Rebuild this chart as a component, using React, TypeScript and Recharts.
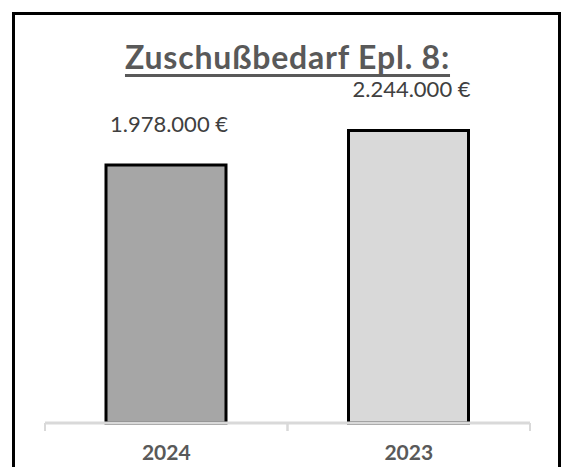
import React from 'react';
import { BarChart, Bar, XAxis, YAxis, Cell, LabelList } from 'recharts';

const years = ['2024', '2023'];
const amounts = [1978000, 2244000];
const barColors = ['#a6a6a6', '#d9d9d9'];
const yMax = 2500000;

const data = years.map((year, i) => ({ year, amount: amounts[i] }));

const formatEuro = (v: number) =>
  v.toString().replace(/\B(?=(\d{3})+(?!\d))/g, '.') + ' €';

const ValueLabel = (props: any) => {
  const { x, y, width, value } = props;
  return (
    <text
      x={x + width / 2 + 3}
      y={y - 33}
      textAnchor="middle"
      fill="#404040"
      fontSize={22}
      fontFamily="Lato, sans-serif"
    >
      {formatEuro(value)}
    </text>
  );
};

// category label plus Excel-style tick marks on the band edges
const YearTick = (props: any) => {
  const { x, y, payload } = props;
  const half = payload.offset || 0;
  return (
    <g>
      <line x1={x - half} x2={x - half} y1={y} y2={y + 8} stroke="#d9d9d9" strokeWidth={2} />
      <line x1={x + half} x2={x + half} y1={y} y2={y + 8} stroke="#d9d9d9" strokeWidth={2} />
      <text
        x={x}
        y={y + 37}
        textAnchor="middle"
        fill="#595959"
        fontSize={21}
        fontWeight={700}
        fontFamily="Lato, sans-serif"
      >
        {payload.value}
      </text>
    </g>
  );
};

export default function App() {
  return (
    <div style={{ position: 'fixed', left: 0, top: 0, width: 563, height: 467, overflow: 'hidden', background: '#fff' }}>
      <div
        style={{
          position: 'absolute', left: 12, top: 12, width: 543, height: 480,
          border: '3px solid #000',
        }}
      />
      <div
        style={{
          position: 'absolute', left: 0, width: 575, top: 40, textAlign: 'center',
          fontFamily: 'Lato, sans-serif', fontWeight: 700, fontSize: 32, color: '#595959',
          textDecoration: 'underline', textDecorationThickness: 3, textUnderlineOffset: 5,
          lineHeight: '34px', letterSpacing: 0.8,
        }}
      >
        Zuschußbedarf Epl. 8:
      </div>
      <div style={{ position: 'absolute', left: 0, top: 0 }}>
        <BarChart width={563} height={467} data={data} margin={{ top: 97, right: 33, left: 45, bottom: 0 }}>
          <XAxis
            dataKey="year"
            height={44}
            axisLine={{ stroke: '#d9d9d9', strokeWidth: 3 }}
            tickLine={false}
            tickSize={0}
            tickMargin={0}
            tick={<YearTick />}
          />
          <YAxis hide domain={[0, yMax]} />
          <Bar dataKey="amount" barSize={120} stroke="#000" strokeWidth={3} isAnimationActive={false}>
            {data.map((d, i) => (
              <Cell key={d.year} fill={barColors[i]} />
            ))}
            <LabelList dataKey="amount" content={<ValueLabel />} />
          </Bar>
        </BarChart>
      </div>
    </div>
  );
}
